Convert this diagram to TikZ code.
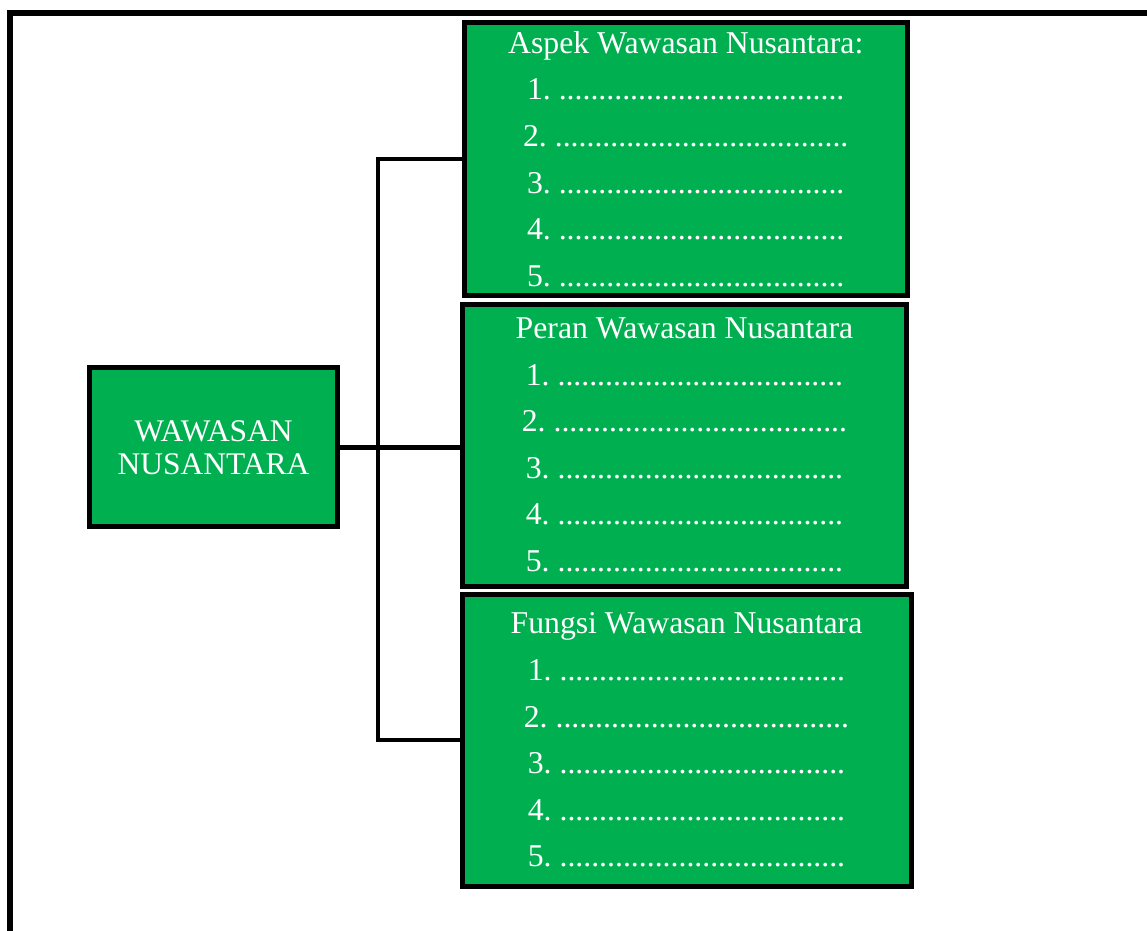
\documentclass[tikz,border=0pt]{standalone}
\usepackage{fontspec}
\setmainfont{Liberation Serif}
\frenchspacing

\definecolor{wngreen}{RGB}{0,176,80}
\newcommand{\dotlist}{1. ....................................\\2. .....................................\\3. ....................................\\4. ....................................\\5. ....................................}

\tikzset{every picture/.style={line width=0.75pt}}
\tikzset{
  listbox/.style={draw=black, fill=wngreen, text=white, line width=3.75pt, inner sep=0pt, align=center, font=\fontsize{23.8}{34.9}\selectfont},
  mainbox/.style={draw=black, fill=wngreen, text=white, line width=3.75pt, inner sep=0pt, align=center, font=\fontsize{23.6}{24.75}\selectfont},
  link/.style={draw=black, line width=3.4pt},
  frameline/.style={draw=black, line width=4.5pt}
}

\begin{document}
\begin{tikzpicture}[x=0.75pt,y=0.75pt,yscale=-1,xscale=1]
\useasboundingbox (0,0) rectangle (1147,931);
%Frame
\draw[frameline] (9.5,931) -- (9.5,13) -- (1147,13);
%Main box
\node[mainbox, minimum width=186pt, minimum height=118.9pt] (wn) at (213.5,447.25) {WAWASAN\\NUSANTARA};
%List boxes
\node[listbox, minimum width=332.6pt, minimum height=205.1pt] (aspek) at (685.75,159) {Aspek Wawasan Nusantara:\\\dotlist};
\node[listbox, minimum width=333pt, minimum height=211.5pt] (peran) at (684.5,445) {Peran Wawasan Nusantara\\\dotlist};
\node[listbox, minimum width=336.75pt, minimum height=219pt] (fungsi) at (686.5,740) {Fungsi Wawasan Nusantara\\\dotlist};
%Connectors
\coordinate (bus) at (378,447.5);
\draw[link] (wn.east) -- (wn.east -| peran.west);
\draw[link] (aspek.west) -- (aspek.west -| bus) -- (fungsi.west -| bus) -- (fungsi.west);
\end{tikzpicture}
\end{document}
